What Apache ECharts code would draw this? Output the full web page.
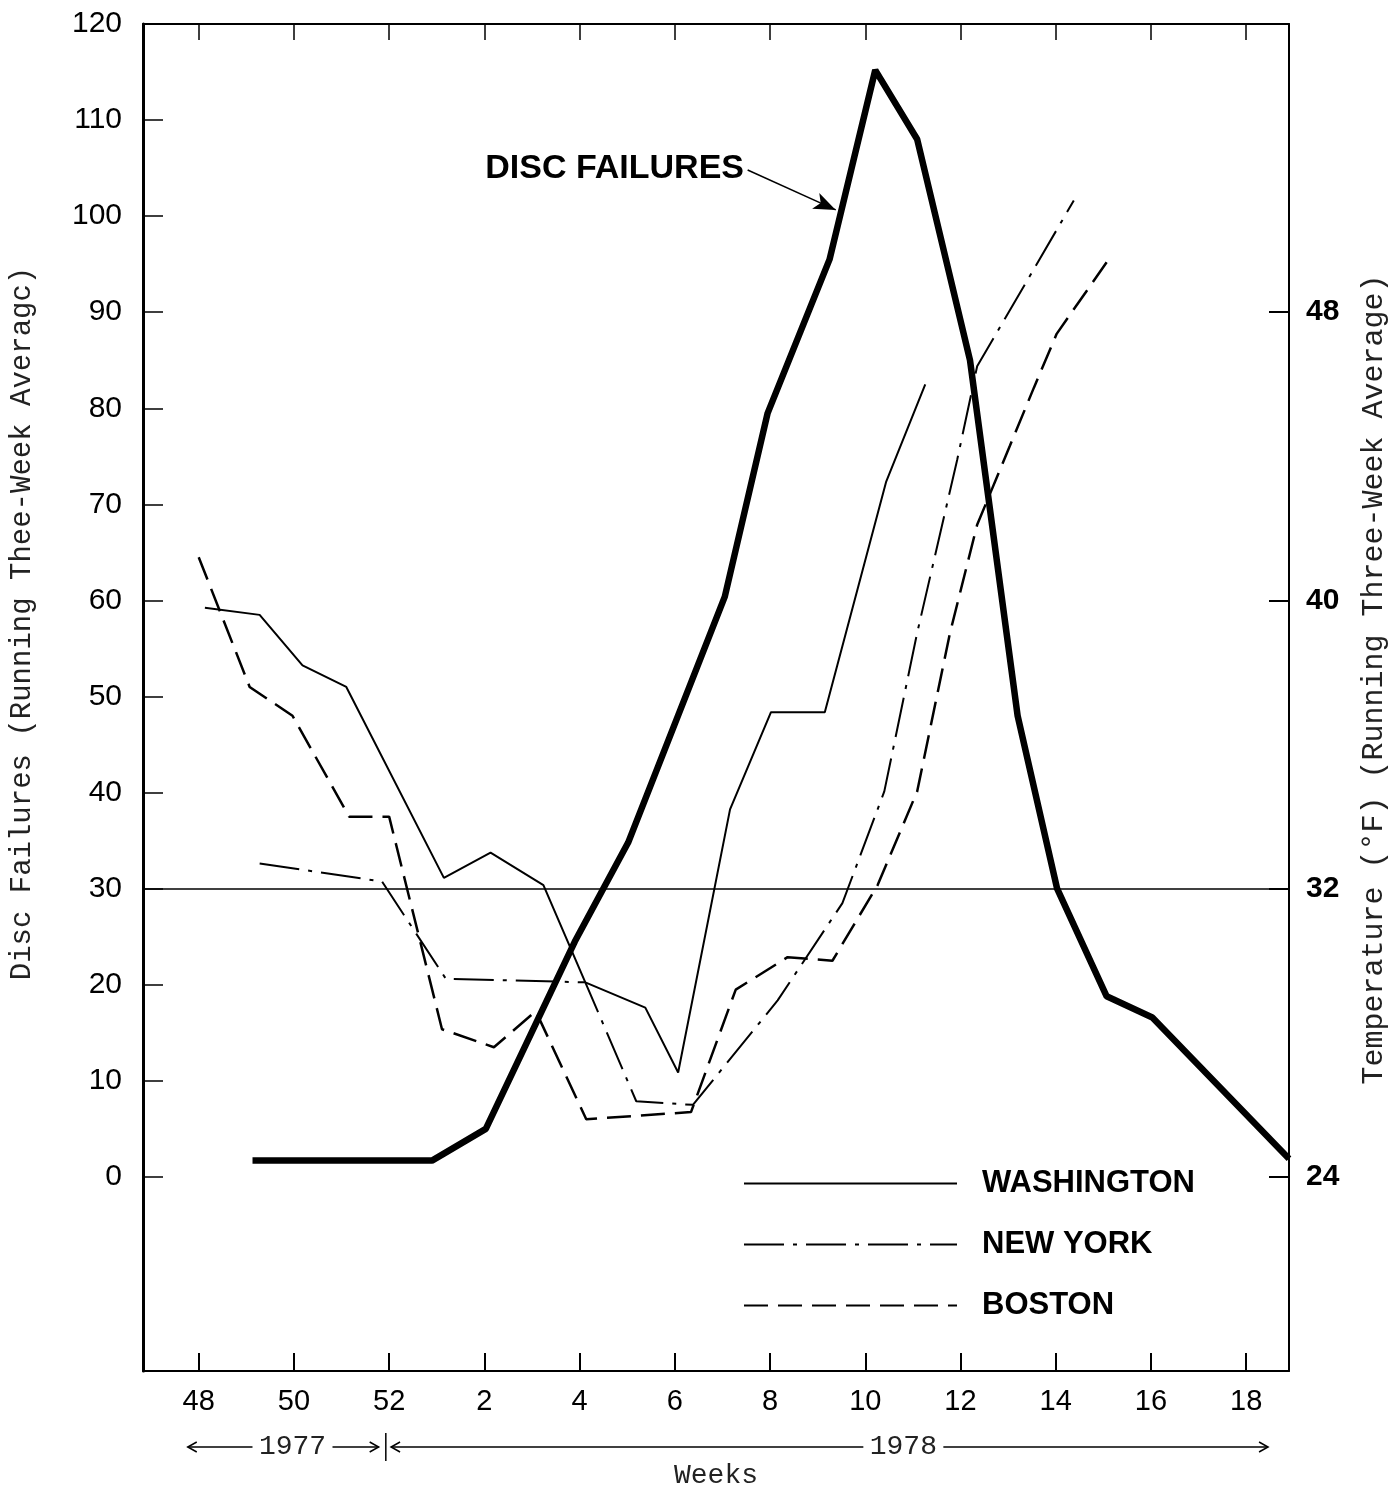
<!DOCTYPE html>
<html>
<head>
<meta charset="utf-8">
<script src="https://cdn.jsdelivr.net/npm/echarts@6/dist/echarts.min.js"></script>
<style>
  html, body { margin: 0; padding: 0; background: #fff; }
  #chart { width: 1397px; height: 1495px; }
</style>
</head>
<body>
<div id="chart"></div>
<script>
// ---- Data (x = week index counted from week 48 of 1977) ----
const weekTickValues = [0, 2, 4, 6, 8, 10, 12, 14, 16, 18, 20, 22];
const weekTickLabels = ['48', '50', '52', '2', '4', '6', '8', '10', '12', '14', '16', '18'];
const failureTicks = [0, 10, 20, 30, 40, 50, 60, 70, 80, 90, 100, 110, 120];
const tempTicks = [24, 32, 40, 48];
const freezingTemp = 32;

const discWeeks  = [1.13, 4.9, 6.03, 7.9, 9.02, 11.05, 11.95, 13.25, 14.21, 15.09, 16.2, 17.2, 18.03, 19.07, 20.03, 22.9];
const discValues = [1.7, 1.7, 5.0, 24.5, 34.8, 60.4, 79.5, 95.5, 115.2, 108, 85, 48, 30, 18.8, 16.6, 1.9];

const waWeeks = [0.13, 1.28, 2.18, 3.10, 5.15, 6.13, 7.24, 8.12, 9.38, 10.07, 11.16, 12.02, 13.15, 14.44, 15.26];
const waTemps = [39.8, 39.6, 38.2, 37.6, 32.3, 33.0, 32.1, 29.4, 28.7, 26.9, 34.2, 36.9, 36.9, 43.3, 46.0];

const nyWeeks = [1.28, 3.85, 5.19, 8.12, 9.19, 10.38, 12.16, 13.52, 14.40, 15.09, 15.93, 16.35, 18.38];
const nyTemps = [32.7, 32.2, 29.5, 29.4, 26.1, 26.0, 28.9, 31.6, 34.7, 39.1, 43.9, 46.5, 51.1];

const bosWeeks = [0, 1.07, 1.97, 3.16, 4.0, 5.11, 6.2, 7.08, 8.14, 10.34, 11.28, 12.37, 13.31, 14.26, 15.09, 15.78, 16.35, 17.04, 17.54, 18.02, 19.13];
const bosTemps = [41.2, 37.6, 36.8, 34.0, 34.0, 28.1, 27.6, 28.6, 25.6, 25.8, 29.2, 30.1, 30.0, 32.1, 34.7, 39.1, 42.1, 44.3, 45.9, 47.4, 49.5];

const discArrowFrom = [11.53, 104.8];
const discArrowTo = [13.38, 100.65];

const yearSpans = [
  { label: '1977', from: -0.23, to: 3.78, mid: 1.97 },
  { label: '1978', from: 4.04, to: 22.46, mid: 14.8 }
];
const yearDivider = 3.93;

// ---- Axis ranges ----
const xMin = -1.17, xMax = 22.9;
const failMin = -20.2, failMax = 120;
// temperature axis aligned: 24°F <-> 0 failures, 8°F per 30 failures
const tempMin = 24 + failMin * 8 / 30, tempMax = 24 + failMax * 8 / 30;

const zip = (a, b) => a.map((v, i) => [v, b[i]]);
const mono = 'Liberation Mono, DejaVu Sans Mono, monospace';
const sans = 'Liberation Sans, Arial, sans-serif';

const chart = echarts.init(document.getElementById('chart'), null, { renderer: 'canvas' });

const option = {
  backgroundColor: '#fff',
  animation: false,
  grid: { left: 143, right: 104, top: 24, bottom: 123, containLabel: false },
  legend: {
    data: ['WASHINGTON', 'NEW YORK', 'BOSTON'],
    orient: 'vertical',
    left: 738,
    top: 1163,
    itemWidth: 213,
    itemHeight: 14,
    itemGap: 30,
    selectedMode: false,
    itemStyle: { opacity: 0 },
    textStyle: { fontFamily: sans, fontSize: 31, fontWeight: 'bold', color: '#000', padding: [0, 0, 0, 20] }
  },
  xAxis: [
    {
      type: 'value', min: xMin, max: xMax, position: 'bottom',
      axisLine: { onZero: false, lineStyle: { color: '#000', width: 2 } },
      axisTick: { inside: true, length: 18, customValues: weekTickValues, lineStyle: { color: '#000', width: 2 } },
      axisLabel: {
        customValues: weekTickValues,
        formatter: v => weekTickLabels[weekTickValues.indexOf(v)],
        fontFamily: sans, fontSize: 29, color: '#000', margin: 16
      },
      splitLine: { show: false },
      name: 'Weeks', nameLocation: 'middle', nameGap: 91,
      nameTextStyle: { fontFamily: mono, fontSize: 28, color: '#222' }
    },
    {
      type: 'value', min: xMin, max: xMax, position: 'top',
      axisLine: { onZero: false, lineStyle: { color: '#000', width: 2 } },
      axisTick: { inside: true, length: 16, customValues: weekTickValues, lineStyle: { color: '#000', width: 1.5 } },
      axisLabel: { show: false },
      splitLine: { show: false }
    }
  ],
  yAxis: [
    {
      type: 'value', min: failMin, max: failMax, position: 'left',
      axisLine: { onZero: false, lineStyle: { color: '#000', width: 3 } },
      axisTick: { inside: true, length: 20, customValues: failureTicks, lineStyle: { color: '#000', width: 1.5 } },
      axisLabel: { customValues: failureTicks, fontFamily: sans, fontSize: 30, color: '#000', margin: 21 },
      splitLine: { show: false },
      name: 'Disc Failures (Running Thee-Week Averagc)',
      nameLocation: 'middle', nameRotate: 90, nameGap: 106,
      nameTextStyle: { fontFamily: mono, fontSize: 29, color: '#222', padding: [0, 0, 0, 148] }
    },
    {
      type: 'value', min: tempMin, max: tempMax, position: 'right',
      axisLine: { onZero: false, lineStyle: { color: '#000', width: 2 } },
      axisTick: { inside: true, length: 20, customValues: tempTicks, lineStyle: { color: '#000', width: 2 } },
      axisLabel: { customValues: tempTicks, fontFamily: sans, fontSize: 30, fontWeight: 'bold', color: '#000', margin: 17 },
      splitLine: { show: false },
      name: 'Temperature (°F) (Running Three-Week Average)',
      nameLocation: 'middle', nameRotate: 90, nameGap: 70,
      nameTextStyle: { fontFamily: mono, fontSize: 30, color: '#222', padding: [0, 0, 0, 36] }
    }
  ],
  series: [
    {
      name: 'WASHINGTON', type: 'line', xAxisIndex: 0, yAxisIndex: 1,
      data: zip(waWeeks, waTemps), symbol: 'none', smooth: false,
      lineStyle: { color: '#000', width: 2, type: 'solid' },
      itemStyle: { color: '#000' },
      markLine: {
        silent: true, symbol: 'none', animation: false,
        label: { show: false },
        lineStyle: { color: '#000', width: 1.5, type: 'solid' },
        data: [{ yAxis: freezingTemp }]
      }
    },
    {
      name: 'NEW YORK', type: 'line', xAxisIndex: 0, yAxisIndex: 1,
      data: zip(nyWeeks, nyTemps), symbol: 'none', smooth: false,
      lineStyle: { color: '#000', width: 2, type: [40, 9, 4, 9] },
      itemStyle: { color: '#000' }
    },
    {
      name: 'BOSTON', type: 'line', xAxisIndex: 0, yAxisIndex: 1,
      data: zip(bosWeeks, bosTemps), symbol: 'none', smooth: false,
      lineStyle: { color: '#000', width: 2.5, type: [24, 10] },
      itemStyle: { color: '#000' }
    },
    {
      name: 'DISC FAILURES', type: 'line', xAxisIndex: 0, yAxisIndex: 0,
      data: zip(discWeeks, discValues), symbol: 'none', smooth: false,
      lineStyle: { color: '#000', width: 6.5 },
      itemStyle: { color: '#000' },
      markLine: {
        silent: true, animation: false,
        lineStyle: { color: '#000', width: 1.5, type: 'solid' },
        label: {
          show: true, position: 'start', formatter: 'DISC FAILURES', distance: 4,
          fontFamily: sans, fontSize: 34, fontWeight: 'bold', color: '#000'
        },
        data: [[
          { coord: discArrowFrom, symbol: 'none' },
          { coord: discArrowTo, symbol: 'arrow', symbolSize: [13, 22] }
        ]]
      }
    }
  ]
};
chart.setOption(option);

// ---- Year brackets below the week axis, positioned through the axis scale ----
const yBase = chart.convertToPixel({ yAxisIndex: 0 }, failMin) + 76;
const px = v => chart.convertToPixel({ xAxisIndex: 0 }, v);
const graphics = [];
const stroke = { stroke: '#000', lineWidth: 1.5 };
yearSpans.forEach(s => {
  const x0 = px(s.from), x1 = px(s.to), xm = px(s.mid);
  const half = 40;
  graphics.push({ type: 'text', x: xm, y: yBase, style: { text: s.label, font: '28px ' + mono, fill: '#222', align: 'center', verticalAlign: 'middle' } });
  graphics.push({ type: 'line', shape: { x1: x0, y1: yBase, x2: xm - half, y2: yBase }, style: stroke });
  graphics.push({ type: 'line', shape: { x1: xm + half, y1: yBase, x2: x1, y2: yBase }, style: stroke });
  graphics.push({ type: 'polyline', shape: { points: [[x0 + 9, yBase - 5], [x0, yBase], [x0 + 9, yBase + 5]] }, style: stroke });
  graphics.push({ type: 'polyline', shape: { points: [[x1 - 9, yBase - 5], [x1, yBase], [x1 - 9, yBase + 5]] }, style: stroke });
});
const xd = px(yearDivider);
graphics.push({ type: 'line', shape: { x1: xd, y1: yBase - 14, x2: xd, y2: yBase + 14 }, style: stroke });
chart.setOption({ graphic: graphics });
</script>
</body>
</html>
